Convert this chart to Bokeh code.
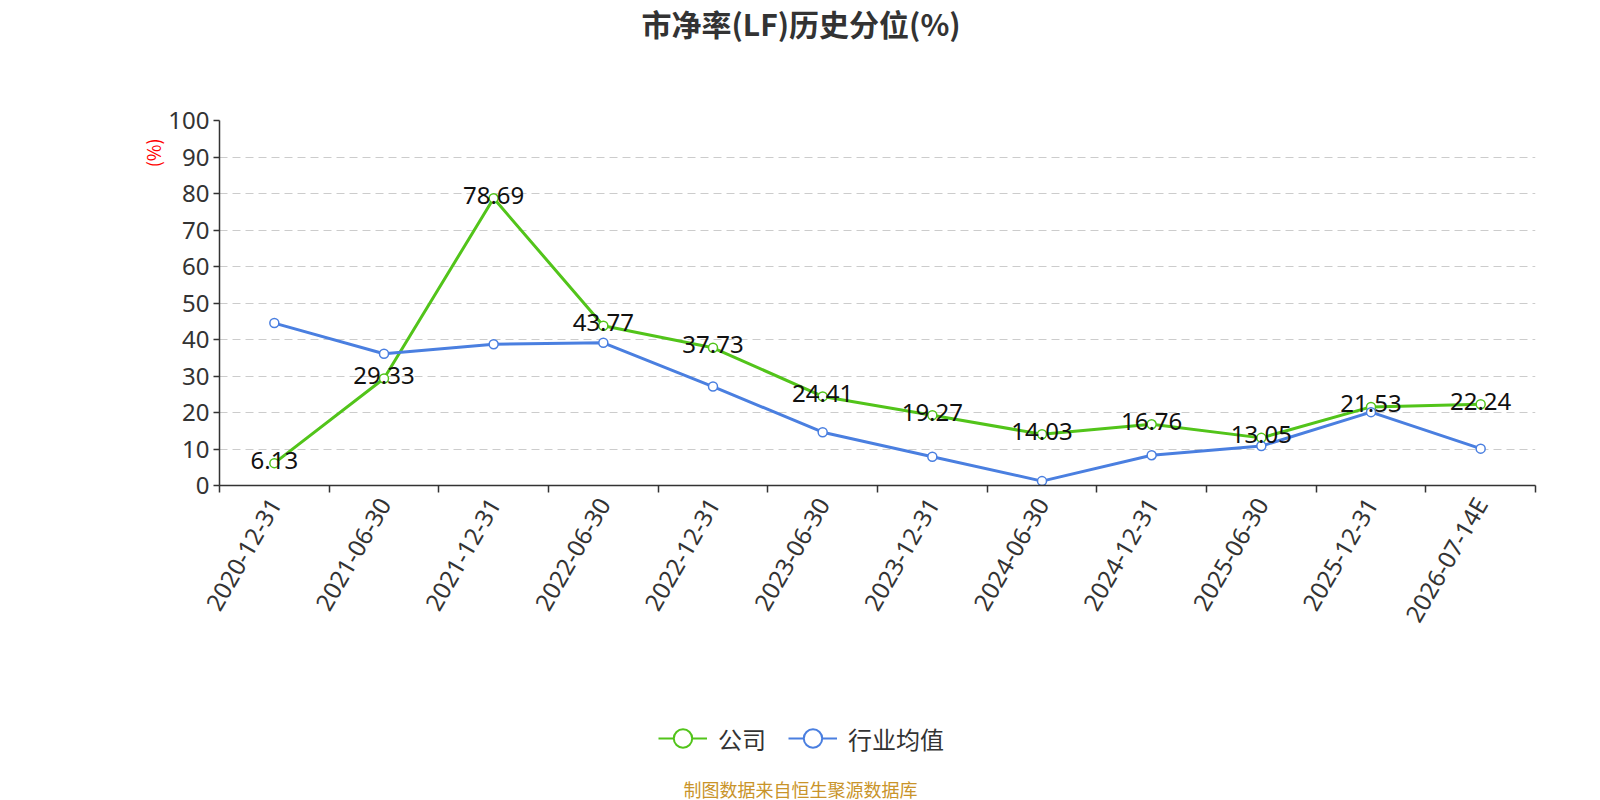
import math
from bokeh.plotting import figure
from bokeh.layouts import column
from bokeh.models import (Range1d, FixedTicker, Legend, LegendItem, Title,
                          ColumnDataSource, LabelSet)
from bokeh.core.properties import value
from bokeh.embed import file_html
from bokeh.resources import INLINE

categories = ["2020-12-31", "2021-06-30", "2021-12-31", "2022-06-30", "2022-12-31",
              "2023-06-30", "2023-12-31", "2024-06-30", "2024-12-31", "2025-06-30",
              "2025-12-31", "2026-07-14E"]
company = [6.13, 29.33, 78.69, 43.77, 37.73, 24.41, 19.27, 14.03, 16.76, 13.05, 21.53, 22.24]
industry = [44.5, 36.1, 38.7, 39.1, 27.1, 14.6, 7.9, 1.2, 8.3, 10.8, 20.1, 10.1]
y_ticks = [0, 10, 20, 30, 40, 50, 60, 70, 80, 90, 100]

title_text = "市净率(LF)历史分位(%)"
footer_text = "制图数据来自恒生聚源数据库"
y_unit = "(%)"
series_names = ["公司", "行业均值"]
GREEN = "#52c41a"
BLUE = "#4a7fe0"
NUM_FONT = "Noto Sans"
CJK_FONT = "Noto Sans CJK SC"

W = 1584
MAIN_H = 660
FOOT_H = 140
LEFT = 219
RIGHT = 49

n = len(categories)
xs = [i + 0.5 for i in range(n)]

src = ColumnDataSource(dict(x=xs, c=company, ind=industry,
                            lab=[f"{v:.2f}" for v in company]))

p = figure(width=W, height=MAIN_H, output_backend="svg", toolbar_location=None,
           x_range=Range1d(0, n), y_range=Range1d(0, 100),
           min_border_left=LEFT, min_border_right=RIGHT, min_border_top=0,
           min_border_bottom=175, title=None)
p.outline_line_color = None
p.background_fill_color = "white"

# spacer above the frame, then the title at the top
p.add_layout(Title(text=" ", text_font_size="2px", standoff=70), "above")
p.add_layout(Title(text=title_text, align="left", offset=422, vertical_align="top",
                   standoff=0, text_font=CJK_FONT, text_font_size="30px",
                   text_font_style="bold", text_color="#333333"), "above")

# grid
p.xgrid.visible = False
p.ygrid.ticker = FixedTicker(ticks=y_ticks[1:])
p.ygrid.grid_line_color = "#cccccc"
p.ygrid.grid_line_dash = "8 5"
p.ygrid.grid_line_width = 1.2

# y axis
p.yaxis.ticker = FixedTicker(ticks=y_ticks)
p.yaxis.axis_line_color = "#333333"
p.yaxis.axis_line_width = 1.5
p.yaxis.major_tick_line_color = "#333333"
p.yaxis.major_tick_line_width = 1.5
p.yaxis.major_tick_out = 6
p.yaxis.major_tick_in = 0
p.yaxis.minor_tick_line_color = None
p.yaxis.major_label_text_font = NUM_FONT
p.yaxis.major_label_text_font_size = "24px"
p.yaxis.major_label_text_color = "#333333"
p.yaxis.major_label_standoff = 4

# y unit (left panel, outside the axis)
p.add_layout(Title(text=y_unit, align="right", offset=18, standoff=0,
                   text_font=CJK_FONT, text_font_size="18px", text_font_style="normal",
                   text_color="red"), "left")

# x axis
p.xaxis.ticker = FixedTicker(ticks=xs, minor_ticks=list(range(n + 1)))
p.xaxis.major_label_overrides = {x: c for x, c in zip(xs, categories)}
p.xaxis.axis_line_color = "#333333"
p.xaxis.axis_line_width = 1.5
p.xaxis.major_tick_line_color = None
p.xaxis.minor_tick_line_color = "#333333"
p.xaxis.minor_tick_line_width = 1.5
p.xaxis.minor_tick_out = 7
p.xaxis.minor_tick_in = 0
p.xaxis.major_label_orientation = math.pi / 3
p.xaxis.major_label_text_font = NUM_FONT
p.xaxis.major_label_text_font_size = "24px"
p.xaxis.major_label_text_color = "#333333"
p.xaxis.major_label_standoff = 7

# lines
p.line("x", "c", source=src, line_color=GREEN, line_width=3)
p.scatter("x", "c", source=src, marker="circle", size=9, fill_color="white",
          line_color=GREEN, line_width=1.5)
p.line("x", "ind", source=src, line_color=BLUE, line_width=3)
p.scatter("x", "ind", source=src, marker="circle", size=9, fill_color="white",
          line_color=BLUE, line_width=1.5)

labels = LabelSet(x="x", y="c", text="lab", source=src, text_align="center",
                  text_baseline="middle", y_offset=3, text_font=value(NUM_FONT),
                  text_font_size="24px", text_color="#111111")
p.add_layout(labels)

# ---- bottom strip: legend + source note ----
# its frame is aligned with the main frame (LEFT..W-RIGHT), so the x range is in canvas pixels
f = figure(width=W, height=FOOT_H, output_backend="svg", toolbar_location=None,
           x_range=Range1d(LEFT, W - RIGHT), y_range=Range1d(0, FOOT_H),
           min_border_left=LEFT, min_border_right=RIGHT, min_border_top=0,
           min_border_bottom=0, title=None)
f.outline_line_color = None
f.axis.visible = False
f.grid.visible = False

nan_src = ColumnDataSource(dict(x=[float("nan")], y=[float("nan")]))
gl = f.line("x", "y", source=nan_src, line_color=GREEN, line_width=2)
gs = f.scatter("x", "y", source=nan_src, marker="circle", fill_color="white",
               line_color=GREEN, line_width=2)
bl = f.line("x", "y", source=nan_src, line_color=BLUE, line_width=2)
bs = f.scatter("x", "y", source=nan_src, marker="circle", fill_color="white",
               line_color=BLUE, line_width=2)

legend = Legend(items=[LegendItem(label=series_names[0], renderers=[gl, gs]),
                       LegendItem(label=series_names[1], renderers=[bl, bs])],
                orientation="horizontal", location=(658 - LEFT, 39),
                label_text_font=CJK_FONT, label_text_font_size="24px",
                label_text_color="#333333", glyph_width=49, glyph_height=46,
                spacing=22, label_standoff=11, border_line_color=None,
                background_fill_alpha=0, margin=0, padding=0)
f.add_layout(legend, "center")

note = ColumnDataSource(dict(x=[800], y=[12], t=[footer_text]))
f.text("x", "y", text="t", source=note, text_align="center", text_baseline="middle",
       text_font=value(CJK_FONT), text_font_size="18px", text_color="#c9942a")

layout = column(p, f, spacing=0)
open("out.html", "w").write(file_html(layout, INLINE))
